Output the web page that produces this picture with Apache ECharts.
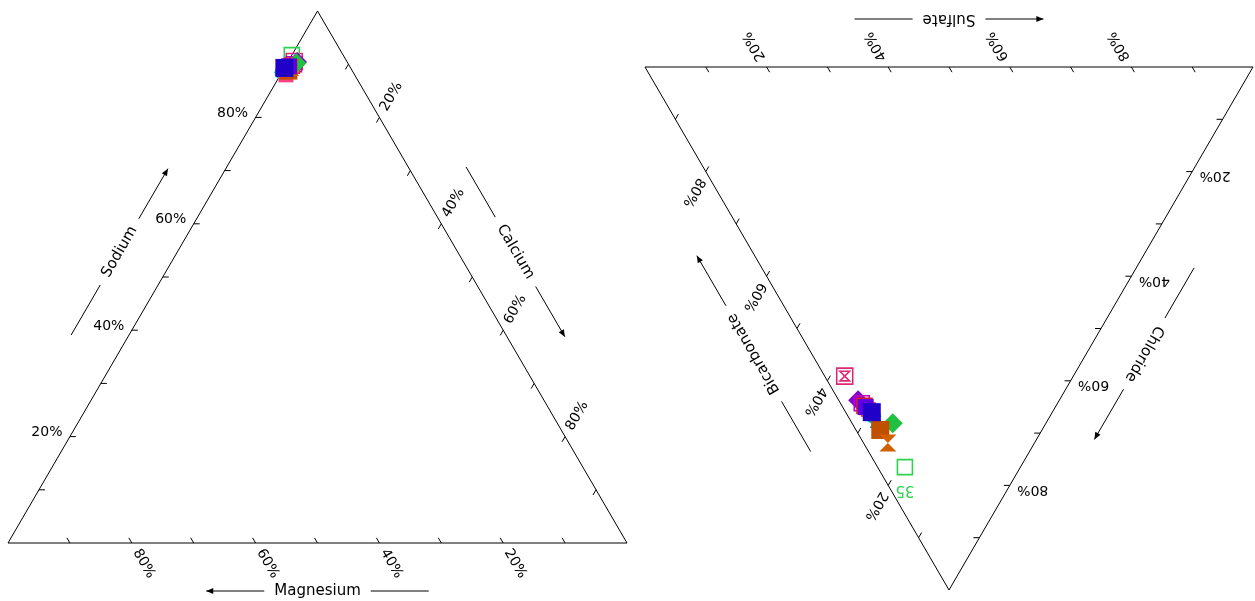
<!DOCTYPE html>
<html><head><meta charset="utf-8">
<script src="https://cdn.jsdelivr.net/npm/echarts@6/dist/echarts.min.js"></script>
<style>html,body{margin:0;padding:0;background:#fff}#c{width:1255px;height:601px}</style>
</head><body><div id="c"></div>
<script>
// ---- data ----
const cationTitles = ['Magnesium', 'Sodium', 'Calcium'];   // bottom-left corner, apex, bottom-right corner roles
const anionTitles  = ['Sulfate', 'Chloride', 'Bicarbonate'];
const tickSteps  = [10, 20, 30, 40, 50, 60, 70, 80, 90];
const labelSteps = [20, 40, 60, 80];
const sampleNames = ['1', '35', '3', '4', '5', '6', '7', '8', '9', '10', '11', '12', '13', '14'];
const calcium     = [1.0, 0.0, 1.5, 1.2, 1.0, 0.9, 0.0, 1.5, 0.9, 0.7, 0.9, 1.0, 0.6, 0.0];
const magnesium   = [8.5, 8.3, 8.1, 8.8, 9.3, 9.2, 11.5, 8.3, 11.1, 9.8, 10.3, 9.6, 9.8, 10.7];
const sodium      = [90.5, 91.7, 90.4, 90.0, 89.7, 89.9, 88.5, 90.2, 88.0, 89.5, 88.8, 89.4, 89.6, 89.3];
const bicarbonate = [37.6, 19.0, 33.1, 32.2, 31.5, 31.0, 29.0, 25.2, 30.5, 28.0, 26.6, 24.1, 31.2, 29.7];
const sulfate     = [3.3, 4.5, 3.2, 3.5, 3.7, 3.8, 4.2, 6.7, 4.0, 4.4, 4.0, 4.0, 3.8, 4.3];
const chloride    = [59.1, 76.5, 63.7, 64.3, 64.8, 65.2, 66.8, 68.1, 65.5, 67.6, 69.4, 71.9, 65.0, 66.0];
const labelledSample = '35';

// ---- styles ----
const markerStyles = [
  {sym: 'sqbow', color: '#dc2878', size: 16},
  {sym: 'rectH', color: '#30d050', size: 15},
  {sym: 'diamond', color: '#8000d0', size: 20},
  {sym: 'rectH', color: '#c000c0', size: 15},
  {sym: 'rectH', color: '#e02020', size: 15},
  {sym: 'triangle', color: '#d0c000', size: 15},
  {sym: 'circle', color: '#00c0c0', size: 15},
  {sym: 'diamond', color: '#20c040', size: 20},
  {sym: 'rect', color: '#ff4080', size: 15},
  {sym: 'triangle', color: '#00a080', size: 15},
  {sym: 'rect', color: '#c05000', size: 18},
  {sym: 'hourglass', color: '#d06000', size: 17},
  {sym: 'rect', color: '#6000e0', size: 16},
  {sym: 'rect', color: '#2000c8', size: 18}
];
const FONT_FAMILY = '"DejaVu Sans", Verdana, sans-serif';
const FONT_SIZE = 14;
const TITLE_SIZE = 15;
const H = Math.sqrt(3) / 2;

const measure = (function () {
  const ctx = document.createElement('canvas').getContext('2d');
  ctx.font = TITLE_SIZE + 'px ' + FONT_FAMILY;
  return t => ctx.measureText(t).width;
})();

// generic ternary edges: corner A (0,0), corner B (1,0), apex C (0.5,H)
const EDGES = [
  {pt: v => [1 - v, 0], inward: [-0.5, H], a: [0, 0], b: [1, 0], labelAngle: -Math.PI / 3, titleAngle: 0, arrowDir: -1, off: 48, lbl: 24, lshift: [0, 0]},
  {pt: v => [v / 2, v * H], inward: [1, 0], a: [0, 0], b: [0.5, H], labelAngle: 0, titleAngle: Math.PI / 3, arrowDir: 1, off: 50, lbl: 23, lshift: [0, -4]},
  {pt: v => [(1 + v) / 2, (1 - v) * H], inward: [-0.5, -H], a: [0.5, H], b: [1, 0], labelAngle: Math.PI / 3, titleAngle: -Math.PI / 3, arrowDir: 1, off: 50, lbl: 24, lshift: [0, 0]}
];

function axisSeries(gi, titles, sgn) {
  const rot = sgn > 0 ? 0 : Math.PI;
  return {
    type: 'custom', xAxisIndex: gi, yAxisIndex: gi, clip: false, silent: true, z: 2,
    data: [[0, 0], [1, 0], [2, 0]],
    renderItem(params, api) {
      const E = EDGES[api.value(0)];
      const c = p => api.coord(p);
      const ch = [];
      const txt = (x, y, r, t, fs) => ({type: 'text', x, y, rotation: r,
        style: {text: t, fontSize: fs, fontFamily: FONT_FAMILY, fill: '#000', align: 'center', verticalAlign: 'middle'}});
      const seg = (p, q) => ({type: 'line', shape: {x1: p[0], y1: p[1], x2: q[0], y2: q[1]}, style: {stroke: '#000', lineWidth: 1}});
      tickSteps.forEach(v => {
        const P = E.pt(v / 100);
        const p0 = c(P);
        const p1 = c([P[0] + E.inward[0] * 0.01, P[1] + E.inward[1] * 0.01]);
        let dx = p1[0] - p0[0], dy = p1[1] - p0[1];
        const L = Math.hypot(dx, dy); dx /= L; dy /= L;
        ch.push(seg(p0, [p0[0] + dx * 6, p0[1] + dy * 6]));
        if (labelSteps.indexOf(v) >= 0) {
          ch.push(txt(p0[0] - dx * E.lbl + E.lshift[0] * sgn, p0[1] - dy * E.lbl + E.lshift[1] * sgn, E.labelAngle + rot, v + '%', FONT_SIZE));
        }
      });
      const A = c(E.a), B = c(E.b), G = c([0.5, H / 3]);
      const M = [(A[0] + B[0]) / 2, (A[1] + B[1]) / 2];
      let ux = B[0] - A[0], uy = B[1] - A[1];
      const UL = Math.hypot(ux, uy); ux /= UL; uy /= UL;
      let nx = -uy, ny = ux;
      if (nx * (M[0] - G[0]) + ny * (M[1] - G[1]) < 0) { nx = -nx; ny = -ny; }
      const T = [M[0] + nx * E.off, M[1] + ny * E.off];
      const title = titles[api.value(0)];
      ch.push(txt(T[0], T[1], E.titleAngle + rot, title, TITLE_SIZE));
      const gap = measure(title) / 2 + 10, len = 58;
      [-1, 1].forEach(s => {
        const p = [T[0] + s * ux * gap, T[1] + s * uy * gap];
        const q = [T[0] + s * ux * (gap + len), T[1] + s * uy * (gap + len)];
        ch.push(seg(p, q));
        if (s === E.arrowDir) {
          const dx = s * ux, dy = s * uy;
          ch.push({type: 'polygon', shape: {points: [q, [q[0] - dx * 7 - dy * 3, q[1] - dy * 7 + dx * 3], [q[0] - dx * 7 + dy * 3, q[1] - dy * 7 - dx * 3]]}, style: {fill: '#000'}});
        }
      });
      return {type: 'group', children: ch};
    }
  };
}

const SYMBOLS = {
  sqbow: 'path://M0,0L10,0L10,10L0,10Z M2,2L8,2L2,8L8,8Z',
  hourglass: 'path://M0,0L10,0L5,5L10,10L0,10L5,5Z'
};
function pointData(bC, aC, cC) {
  return sampleNames.map((name, i) => {
    const s = bC[i] + aC[i] + cC[i];
    const st = markerStyles[i];
    const hollow = st.sym === 'rectH' || st.sym === 'sqbow';
    return {
      name,
      value: [(bC[i] + cC[i] / 2) / s, cC[i] / s * H],
      symbol: SYMBOLS[st.sym] || (st.sym === 'rectH' ? 'rect' : st.sym),
      symbolSize: st.size,
      itemStyle: hollow ? {color: 'rgba(255,255,255,0)', borderColor: st.color, borderWidth: 1.6, opacity: 1}
                        : {color: st.color, opacity: 1}
    };
  });
}
const labelColor = markerStyles[sampleNames.indexOf(labelledSample)].color;
const frame = [[0, 0], [1, 0], [0.5, H], [0, 0]];

const chart = echarts.init(document.getElementById('c'), null, {renderer: 'canvas'});
chart.setOption({
  animation: false,
  backgroundColor: '#fff',
  grid: [
    {left: 8, top: 11, width: 619, height: 532},
    {left: 645, top: 67, width: 608, height: 523}
  ],
  xAxis: [
    {gridIndex: 0, type: 'value', min: 0, max: 1, show: false},
    {gridIndex: 1, type: 'value', min: 0, max: 1, inverse: true, show: false}
  ],
  yAxis: [
    {gridIndex: 0, type: 'value', min: 0, max: H, show: false},
    {gridIndex: 1, type: 'value', min: 0, max: H, inverse: true, show: false}
  ],
  series: [
    {type: 'line', xAxisIndex: 0, yAxisIndex: 0, data: frame, symbol: 'none', silent: true, clip: false, lineStyle: {color: '#000', width: 1}, z: 1},
    {type: 'line', xAxisIndex: 1, yAxisIndex: 1, data: frame, symbol: 'none', silent: true, clip: false, lineStyle: {color: '#000', width: 1}, z: 1},
    axisSeries(0, cationTitles, 1),
    axisSeries(1, anionTitles, -1),
    {type: 'scatter', xAxisIndex: 0, yAxisIndex: 0, clip: false, z: 5, data: pointData(calcium, magnesium, sodium)},
    {type: 'scatter', xAxisIndex: 1, yAxisIndex: 1, clip: false, z: 5, data: pointData(bicarbonate, sulfate, chloride),
      label: {show: true, position: 'bottom', distance: 7, rotate: 180, align: 'center', verticalAlign: 'bottom',
        formatter: p => p.name === labelledSample ? p.name : '',
        color: labelColor, fontSize: 15, fontFamily: FONT_FAMILY}}
  ]
});
</script></body></html>
